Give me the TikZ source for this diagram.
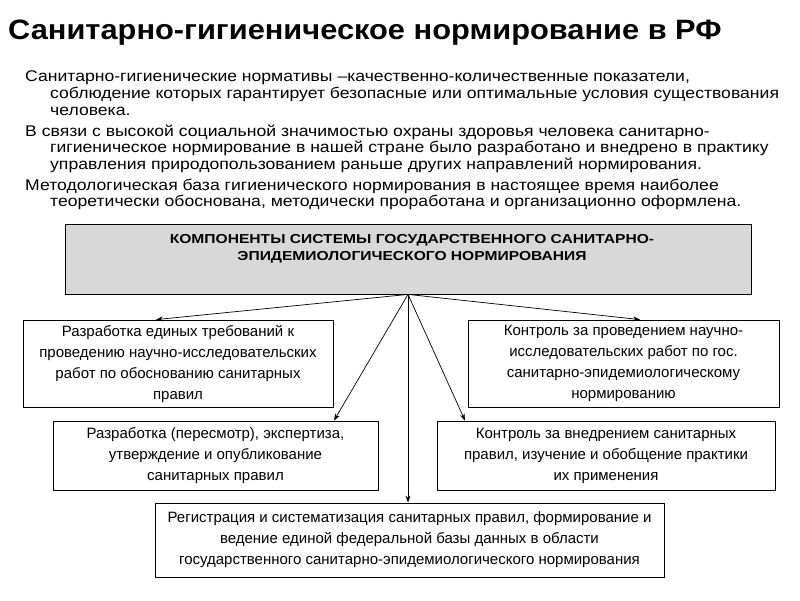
\documentclass[tikz,border=0pt]{standalone}
\usepackage{fontspec}
\setmainfont{Liberation Sans}
\newfontfamily\titlefont[FakeStretch=1.1]{Liberation Sans}
\newfontfamily\bodyfont[FakeStretch=1.135]{Liberation Sans}
\newfontfamily\headfont[FakeStretch=1.2]{Liberation Sans}
\usetikzlibrary{arrows.meta}
\definecolor{boxgray}{RGB}{216,216,216}
\begin{document}
\begin{tikzpicture}[x=1pt,y=-1pt,
  box/.style={draw=black,line width=0.8pt,fill=white,align=center,inner sep=0pt,
    font=\fontsize{15}{21}\selectfont},
  conn/.style={-{Stealth[length=7pt,width=5pt]},line width=0.7pt},
  bodyline/.style={anchor=base west,inner sep=0pt,font=\bodyfont\fontsize{15.5}{17}\selectfont}]
\useasboundingbox[fill=white] (0,0) rectangle (800,600);

\node[anchor=base west,inner sep=0pt,font=\titlefont\bfseries\fontsize{28}{30}\selectfont] (title) at (8,39)
  {Санитарно-гигиеническое нормирование в РФ};

\node[bodyline] (p1a) at (25,81.5) {Санитарно-гигиенические нормативы –качественно-количественные показатели,};
\node[bodyline] (p1b) at (50,98) {соблюдение которых гарантирует безопасные или оптимальные условия существования};
\node[bodyline] (p1c) at (50,115) {человека.};
\node[bodyline] (p2a) at (25,136) {В связи с высокой социальной значимостью охраны здоровья человека санитарно-};
\node[bodyline] (p2b) at (50,152.5) {гигиеническое нормирование в нашей стране было разработано и внедрено в практику};
\node[bodyline] (p2c) at (50,169) {управления природопользованием раньше других направлений нормирования.};
\node[bodyline] (p3a) at (25,190) {Методологическая база гигиенического нормирования в настоящее время наиболее};
\node[bodyline] (p3b) at (50,206.5) {теоретически обоснована, методически проработана и организационно оформлена.};

\node[draw=black,line width=0.8pt,fill=boxgray,minimum width=686pt,minimum height=70pt,inner sep=0pt] (top) at (408,259) {};
\node[align=center,inner sep=0pt,font=\headfont\bfseries\fontsize{13}{17.5}\selectfont] (toptext) at (412,249)
  {КОМПОНЕНТЫ СИСТЕМЫ ГОСУДАРСТВЕННОГО САНИТАРНО-\\ЭПИДЕМИОЛОГИЧЕСКОГО НОРМИРОВАНИЯ};

\node[box,minimum width=310pt,minimum height=87pt] (l1) at (178,363.5)
  {Разработка единых требований к\\проведению научно-исследовательских\\работ по обоснованию санитарных\\правил};
\node[box,minimum width=325pt,minimum height=69pt] (l2) at (215.5,455.5)
  {Разработка (пересмотр), экспертиза,\\утверждение и опубликование\\санитарных правил};
\node[box,minimum width=311pt,minimum height=87pt] (r1) at (623.5,363.5)
  {Контроль за проведением научно-\\исследовательских работ по гос.\\санитарно-эпидемиологическому\\нормированию};
\node[box,minimum width=338pt,minimum height=69pt] (r2) at (606,455.5)
  {Контроль за внедрением санитарных\\правил, изучение и обобщение практики\\их применения};
\node[box,minimum width=509pt,minimum height=74pt] (bot) at (409.5,540)
  {Регистрация и систематизация санитарных правил, формирование и\\ведение единой федеральной базы данных в области\\государственного санитарно-эпидемиологического нормирования};

\draw[conn] (top.south) -- ([xshift=-22pt]l1.north);
\draw[conn] (top.south) -- ([xshift=118.5pt]l2.north);
\draw[conn] (top.south) -- (top.south |- bot.north);
\draw[conn] (top.south) -- ([xshift=-141pt]r2.north);
\draw[conn] (top.south) -- ([xshift=16.5pt]r1.north);
\end{tikzpicture}
\end{document}
